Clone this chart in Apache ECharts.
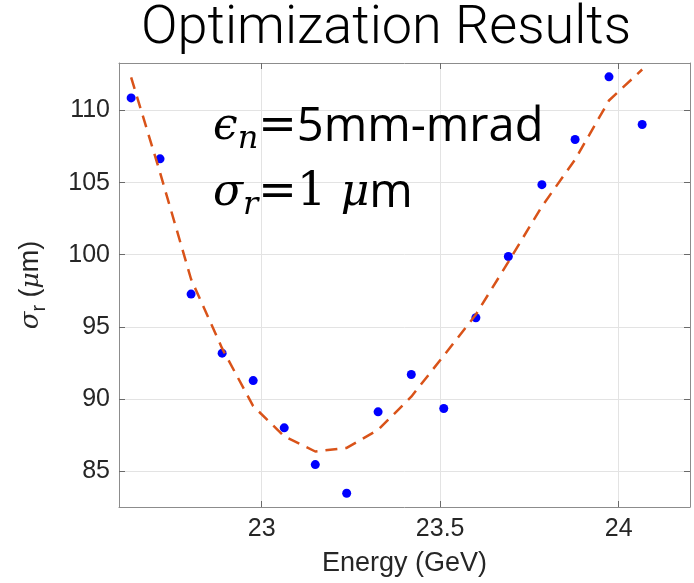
<!DOCTYPE html>
<html>
<head>
<meta charset="utf-8">
<script src="https://cdn.jsdelivr.net/npm/echarts@6/dist/echarts.min.js"></script>
<style>html,body{margin:0;padding:0;background:#fff}#c{width:694px;height:583px}</style>
</head>
<body>
<div id="c"></div>
<script>
const xTicks = [23, 23.5, 24];
const yTicks = [85, 90, 95, 100, 105, 110];
const energy = [22.634, 22.715, 22.802, 22.889, 22.976, 23.063, 23.150, 23.238, 23.326, 23.419, 23.510, 23.600, 23.691, 23.785, 23.878, 23.973, 24.066];
const sigma = [110.88, 106.65, 97.27, 93.17, 91.27, 87.99, 85.44, 83.45, 89.10, 91.69, 89.33, 95.63, 99.88, 104.86, 107.99, 112.34, 109.03];
const fit = [112.3, 105.7, 98.3, 93.5, 89.5, 87.4, 86.35, 86.6, 87.85, 90.15, 93.0, 95.85, 99.5, 103.35, 106.6, 110.7, 112.85];

const chart = echarts.init(document.getElementById('c'), null, {renderer: 'canvas'});
const boxColor = '#8c8c8c';
const tickColor = '#6a6a6a';
const labelFont = 'Liberation Sans';
function frameAxis(pos, ticks, extra) {
  return Object.assign({
    type: 'value', position: pos,
    axisLine: {show: true, onZero: false, lineStyle: {color: boxColor, width: 1}},
    axisTick: {show: true, inside: true, length: 6, customValues: ticks, lineStyle: {color: tickColor}},
    axisLabel: {show: false},
    splitLine: {show: false}
  }, extra);
}
const mathRich = {
  g: {fontSize: 44, fontFamily: 'DejaVu Serif', fontStyle: 'italic', fill: '#000', verticalAlign: 'middle', lineHeight: 56},
  sub: {fontSize: 32, fontFamily: 'DejaVu Serif', fontStyle: 'italic', fill: '#000', verticalAlign: 'bottom', lineHeight: 56},
  e: {fontSize: 46, fontFamily: 'DejaVu Serif', fill: '#000', verticalAlign: 'middle', lineHeight: 56},
  t: {fontSize: 47, fontFamily: 'Open Sans', fill: '#000', verticalAlign: 'middle', lineHeight: 56}
};
const option = {
  backgroundColor: '#fff',
  animation: false,
  title: {
    text: 'Optimization Results', left: 136, top: -3,
    textStyle: {fontFamily: 'Roboto', fontWeight: 300, fontSize: 54, color: '#000'}
  },
  grid: {left: 119, right: 4, top: 63, bottom: 76, containLabel: false},
  xAxis: [
    frameAxis('bottom', xTicks, {
      min: 22.6, max: 24.2,
      axisLabel: {show: true, customValues: xTicks, fontSize: 25, color: '#262626', fontFamily: labelFont, margin: 10},
      splitLine: {show: true, lineStyle: {color: '#e3e3e3', width: 1}},
      name: 'Energy (GeV)', nameLocation: 'middle', nameGap: 43,
      nameTextStyle: {fontSize: 27, color: '#262626', fontFamily: labelFont}
    }),
    frameAxis('top', xTicks, {min: 22.6, max: 24.2})
  ],
  yAxis: [
    frameAxis('left', yTicks, {
      min: 82.5, max: 113.3,
      axisLabel: {show: true, customValues: yTicks, fontSize: 25, color: '#262626', fontFamily: labelFont, margin: 9},
      splitLine: {show: true, lineStyle: {color: '#e3e3e3', width: 1}},
      name: '{s|σ}{sub|r}{t| (}{m|μ}{t|m)}', nameLocation: 'middle', nameGap: 70, nameRotate: 90,
      nameTextStyle: {
        color: '#262626',
        rich: {
          s: {fontSize: 26, fontFamily: 'DejaVu Serif', fontStyle: 'italic', color: '#262626', verticalAlign: 'middle', lineHeight: 36},
          sub: {fontSize: 20, fontFamily: labelFont, color: '#262626', verticalAlign: 'bottom', lineHeight: 36},
          t: {fontSize: 27, fontFamily: labelFont, color: '#262626', verticalAlign: 'middle', lineHeight: 36},
          m: {fontSize: 25, fontFamily: 'DejaVu Serif', fontStyle: 'italic', color: '#262626', verticalAlign: 'middle', lineHeight: 36}
        }
      }
    }),
    frameAxis('right', yTicks, {min: 82.5, max: 113.3})
  ],
  graphic: [
    {
      type: 'text', left: 213, top: 104, z: 100,
      style: {text: '{g|ϵ}{sub|n}{e|=}{t|5mm-mrad}', rich: mathRich}
    },
    {
      type: 'text', left: 213, top: 170, z: 100,
      style: {text: '{g|σ}{sub|r}{e|=1 }{g|μ}{t|m}', rich: mathRich}
    }
  ],
  series: [
    {
      type: 'scatter', xAxisIndex: 0, yAxisIndex: 0,
      data: energy.map((e, i) => [e, sigma[i]]),
      symbol: 'circle', symbolSize: 9,
      itemStyle: {color: '#0000ff', opacity: 1}, z: 2
    },
    {
      type: 'line', xAxisIndex: 0, yAxisIndex: 0,
      data: energy.map((e, i) => [e, fit[i]]),
      showSymbol: false, symbol: 'none',
      lineStyle: {color: '#D95319', width: 2.5, type: [12, 8]}, z: 3
    }
  ]
};
chart.setOption(option);
</script>
</body>
</html>
